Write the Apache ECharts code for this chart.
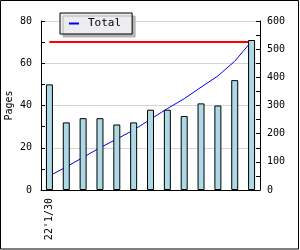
<!DOCTYPE html>
<html><head><meta charset="utf-8">
<script src="https://cdn.jsdelivr.net/npm/echarts@6/dist/echarts.min.js"></script>
<style>html,body{margin:0;padding:0;background:#fff}#c{width:300px;height:250px}</style>
</head><body><div id="c"></div>
<script>
const categories = ["22'1/30", "", "", "", "", "", "", "", "", "", "", "", ""];
const pages = [50, 32, 34, 34, 31, 32, 38, 38, 35, 41, 40, 52, 71];
const cumulative = [50, 82, 116, 150, 181, 213, 251, 289, 324, 365, 405, 457, 528];
const totalValue = 528;
const leftTicks = { min: 0, max: 80, interval: 20 };
const rightTicks = { min: 0, max: 600, interval: 100 };

const FONT = 'DejaVu Sans Mono';
const chart = echarts.init(document.getElementById('c'), null, { renderer: 'canvas' });
chart.setOption({
  animation: false,
  backgroundColor: '#fff',
  textStyle: { fontFamily: FONT },
  grid: { left: 41, right: 40, top: 21, bottom: 60, containLabel: false, outerBoundsMode: 'none' },
  legend: {
    data: ['Total'],
    left: 60, top: 13,
    padding: [5, 11, 5, 9],
    backgroundColor: '#edecf1',
    borderColor: '#000', borderWidth: 1,
    shadowColor: '#b4b4b4', shadowOffsetX: 3, shadowOffsetY: 3, shadowBlur: 0,
    icon: 'rect', itemWidth: 10, itemHeight: 2,
    textStyle: { fontFamily: FONT, fontSize: 11, color: '#000', padding: [0, 0, 0, 4] }
  },
  xAxis: {
    type: 'category', data: categories, boundaryGap: true,
    axisLine: { lineStyle: { color: '#000', width: 1 } },
    axisTick: { inside: true, length: 4, interval: 0, lineStyle: { color: '#000' } },
    axisLabel: { interval: 0, rotate: 90, margin: 8, fontFamily: FONT, fontSize: 10, color: '#000' }
  },
  yAxis: [
    {
      type: 'value', min: leftTicks.min, max: leftTicks.max, interval: leftTicks.interval,
      name: 'Pages', nameLocation: 'middle', nameGap: 27, nameMoveOverlap: false,
      nameTextStyle: { fontFamily: FONT, fontSize: 10, color: '#000' },
      axisLine: { show: true, lineStyle: { color: '#000' } },
      axisTick: { show: true, inside: true, length: 4, lineStyle: { color: '#000' } },
      minorTick: { show: true, splitNumber: 2, length: 4, lineStyle: { color: '#000' } },
      axisLabel: { margin: 9, fontFamily: FONT, fontSize: 10, color: '#000' },
      splitLine: { show: true, lineStyle: { color: '#d4d4d4', width: 1 } }
    },
    {
      type: 'value', min: rightTicks.min, max: rightTicks.max, interval: rightTicks.interval,
      position: 'right',
      axisLine: { show: true, lineStyle: { color: '#000' } },
      axisTick: { show: true, inside: true, length: 4, lineStyle: { color: '#000' } },
      minorTick: { show: true, splitNumber: 2, length: 4, lineStyle: { color: '#000' } },
      axisLabel: { margin: 7, fontFamily: FONT, fontSize: 10, color: '#000' },
      splitLine: { show: false }
    }
  ],
  series: [
    {
      name: 'Total', type: 'line', yAxisIndex: 1, data: cumulative,
      symbol: 'none', z: 1,
      lineStyle: { color: '#0000ff', width: 1 }, itemStyle: { color: '#0000ff' },
      markLine: {
        silent: true, symbol: 'none', z: 1,
        label: { show: false },
        lineStyle: { color: '#ff0000', width: 2, type: 'solid' },
        data: [[{ coord: [0, totalValue] }, { coord: [categories.length - 1, totalValue] }]]
      }
    },
    {
      name: 'Pages', type: 'bar', yAxisIndex: 0, data: pages, z: 3,
      barWidth: 7,
      itemStyle: { color: '#add8e6', borderColor: '#000', borderWidth: 1 }
    }
  ],
  graphic: [{
    type: 'rect', silent: true, z: 100,
    shape: { x: 0.5, y: 0.5, width: 298, height: 248.5 },
    style: { fill: null, stroke: '#000', lineWidth: 1 }
  }]
});
</script></body></html>
